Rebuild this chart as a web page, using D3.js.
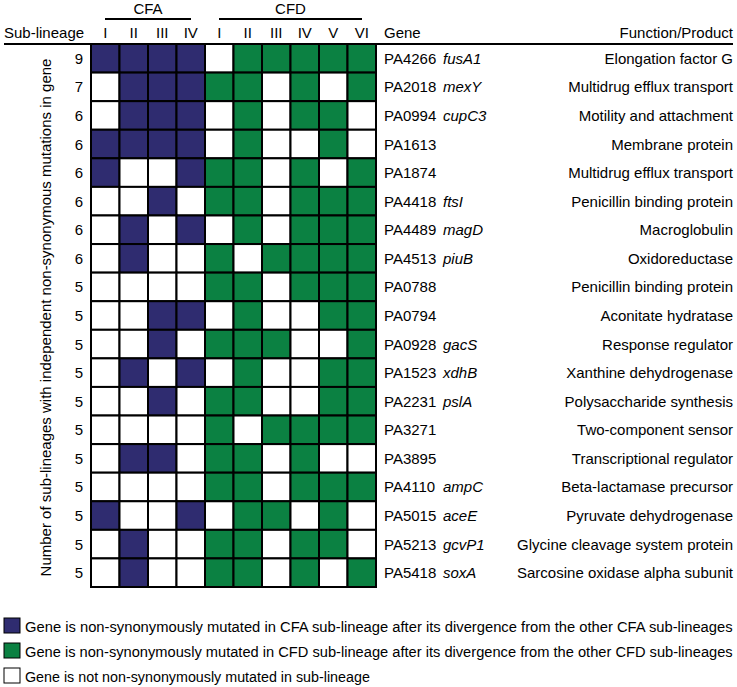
<!DOCTYPE html>
<html><head><meta charset="utf-8">
<script src="https://cdn.jsdelivr.net/npm/d3@7"></script>
<style>body{margin:0;background:#fff}svg{display:block;font-family:Arial,"Liberation Sans",sans-serif}</style>
</head><body><svg id="c" width="737" height="687"></svg>
<script>
const subLineages = ["I","II","III","IV","I","II","III","IV","V","VI"];
const groups = ["CFA","CFA","CFA","CFA","CFD","CFD","CFD","CFD","CFD","CFD"];
const counts = [9,7,6,6,6,6,6,6,5,5,5,5,5,5,5,5,5,5,5];
const geneIds = ["PA4266","PA2018","PA0994","PA1613","PA1874","PA4418","PA4489","PA4513","PA0788","PA0794","PA0928","PA1523","PA2231","PA3271","PA3895","PA4110","PA5015","PA5213","PA5418"];
const geneNames = ["fusA1","mexY","cupC3","","","ftsI","magD","piuB","","","gacS","xdhB","pslA","","","ampC","aceE","gcvP1","soxA"];
const functions = ["Elongation factor G","Multidrug efflux transport","Motility and attachment","Membrane protein","Multidrug efflux transport","Penicillin binding protein","Macroglobulin","Oxidoreductase","Penicillin binding protein","Aconitate hydratase","Response regulator","Xanthine dehydrogenase","Polysaccharide synthesis","Two-component sensor","Transcriptional regulator","Beta-lactamase precursor","Pyruvate dehydrogenase","Glycine cleavage system protein","Sarcosine oxidase alpha subunit"];
const mutated = [
 [1,1,1,1, 0,1,1,1,1,1],
 [0,1,1,1, 1,1,0,1,0,1],
 [0,1,1,1, 0,1,0,1,1,0],
 [1,1,1,1, 0,1,0,0,1,0],
 [1,0,0,1, 1,1,0,1,0,1],
 [0,0,1,0, 1,1,0,1,1,1],
 [0,1,0,1, 0,1,0,1,1,1],
 [0,1,0,0, 1,0,1,1,1,1],
 [0,0,0,0, 1,1,0,1,1,1],
 [0,0,1,1, 0,1,0,0,1,1],
 [0,0,1,0, 1,1,1,0,0,1],
 [0,1,0,1, 0,1,0,0,1,1],
 [0,0,1,0, 1,1,0,0,1,1],
 [0,0,0,0, 1,0,1,1,1,1],
 [0,1,1,0, 1,1,0,1,0,0],
 [0,0,0,0, 1,1,0,1,1,1],
 [1,0,0,1, 0,1,1,0,1,0],
 [0,1,0,0, 1,1,0,1,1,0],
 [0,1,0,0, 1,1,0,1,0,1]
];
const legendLabels = [
 "Gene is non-synonymously mutated in CFA sub-lineage after its divergence from the other CFA sub-lineages",
 "Gene is non-synonymously mutated in CFD sub-lineage after its divergence from the other CFD sub-lineages",
 "Gene is not non-synonymously mutated in sub-lineage"
];
const colors = {CFA:"#2f2c70", CFD:"#0b8142", none:"#ffffff"};
const FS = 15;

const svg = d3.select("#c");
const x = d3.scaleBand().domain(d3.range(subLineages.length)).range([91,376]).padding(0);
const y = d3.scaleBand().domain(d3.range(geneIds.length)).range([44,587]).padding(0);

// cells
const cells = [];
mutated.forEach((row,r)=>row.forEach((v,c)=>cells.push({r,c,v})));
svg.append("g").selectAll("rect").data(cells).join("rect")
  .attr("x",d=>x(d.c)).attr("y",d=>y(d.r))
  .attr("width",x.bandwidth()).attr("height",y.bandwidth())
  .attr("fill",d=>d.v ? colors[groups[d.c]] : colors.none)
  .attr("stroke","#000").attr("stroke-width",2);

// header line
svg.append("line").attr("x1",4).attr("x2",733).attr("y1",44).attr("y2",44).attr("stroke","#000").attr("stroke-width",2.2);

// group headers
["CFA","CFD"].forEach(g=>{
  const idx = groups.map((v,i)=>v===g?i:-1).filter(i=>i>=0);
  const x0 = x(idx[0]) + 14, x1 = x(idx[idx.length-1]) + x.bandwidth() - 14;
  svg.append("line").attr("x1",x0).attr("x2",x1).attr("y1",19).attr("y2",19).attr("stroke","#000").attr("stroke-width",2);
  svg.append("text").attr("x",(x0+x1)/2).attr("y",14).attr("text-anchor","middle").attr("font-size",FS).text(g);
});
svg.append("text").attr("x",4).attr("y",38).attr("font-size",FS).text("Sub-lineage");
svg.append("g").selectAll("text").data(subLineages).join("text")
  .attr("x",(d,i)=>x(i)+x.bandwidth()/2).attr("y",38).attr("text-anchor","middle").attr("font-size",FS).text(d=>d);
svg.append("text").attr("x",384).attr("y",38).attr("font-size",FS).text("Gene");
svg.append("text").attr("x",733).attr("y",38).attr("text-anchor","end").attr("font-size",FS).text("Function/Product");

// counts
svg.append("g").selectAll("text").data(counts).join("text")
  .attr("x",79).attr("y",(d,i)=>y(i)+y.bandwidth()/2+5.5).attr("text-anchor","middle").attr("font-size",FS).text(d=>d);
// y label
svg.append("text").attr("transform",`translate(51,${(44+587)/2+2}) rotate(-90)`).attr("text-anchor","middle").attr("font-size",FS)
  .text("Number of sub-lineages with independent non-synonymous mutations in gene");

// gene ids / names / functions
svg.append("g").selectAll("text").data(geneIds).join("text")
  .attr("x",384).attr("y",(d,i)=>y(i)+y.bandwidth()/2+5.5).attr("font-size",FS).text(d=>d);
svg.append("g").selectAll("text").data(geneNames).join("text")
  .attr("x",443).attr("y",(d,i)=>y(i)+y.bandwidth()/2+5.5).attr("font-size",FS).attr("font-style","italic").text(d=>d);
svg.append("g").selectAll("text").data(functions).join("text")
  .attr("x",733).attr("y",(d,i)=>y(i)+y.bandwidth()/2+5.5).attr("text-anchor","end").attr("font-size",FS).text(d=>d);

// legend
const legColors = [colors.CFA, colors.CFD, colors.none];
const legWidths = [708, 708, 345];
const lg = svg.append("g");
legendLabels.forEach((t,i)=>{
  const yy = 618 + i*25;
  lg.append("rect").attr("x",4).attr("y",yy).attr("width",16).attr("height",15).attr("fill",legColors[i]).attr("stroke","#000").attr("stroke-width",1);
  const tg = lg.append("g");
  const tx = tg.append("text").attr("x",0).attr("y",0).attr("font-size",15.5).text(t);
  const w = tx.node().getComputedTextLength();
  const s = Math.min(1, legWidths[i]/w);
  tg.attr("transform",`translate(25,${yy+14}) scale(${s},1)`);
});
</script></body></html>
